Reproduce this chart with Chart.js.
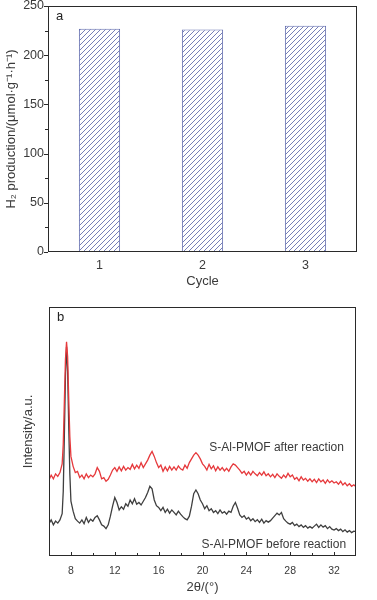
<!DOCTYPE html>
<html>
<head>
<meta charset="utf-8">
<script src="https://cdn.jsdelivr.net/npm/chart.js@4.4.1/dist/chart.umd.min.js"></script>
<style>
  html, body { margin: 0; padding: 0; background: #fff; }
  #wrap { position: relative; width: 377px; height: 600px; }
  canvas { position: absolute; left: 0; display: block; }
  #c1 { top: 0; }
  #c2 { top: 300px; }
</style>
</head>
<body>
<div id="wrap">
  <canvas id="c1" width="377" height="300"></canvas>
  <canvas id="c2" width="377" height="300"></canvas>
</div>
<script>
// ---------- Panel a: H2 production per cycle ----------
const cycles = ['1', '2', '3'];
const h2Production = [227, 226, 230];
const h2TickValues = [0, 50, 100, 150, 200, 250];

// ---------- Panel b: XRD patterns ----------
const twoTheta = [
  6.0, 6.2, 6.4, 6.6, 6.8, 7.0, 7.2, 7.3, 7.4, 7.5, 7.6, 7.7, 7.8, 7.9, 8.0,
  8.2, 8.4, 8.6, 8.8, 9.0, 9.2, 9.4, 9.6, 9.8, 10.0,
  10.2, 10.4, 10.6, 10.8, 11.0, 11.2, 11.4, 11.6, 11.8, 12.0,
  12.2, 12.4, 12.6, 12.8, 13.0, 13.2, 13.4, 13.6, 13.8, 14.0,
  14.2, 14.4, 14.6, 14.8, 15.0, 15.2, 15.4, 15.6, 15.8, 16.0,
  16.2, 16.4, 16.6, 16.8, 17.0, 17.2, 17.4, 17.6, 17.8, 18.0,
  18.2, 18.4, 18.6, 18.8, 19.0, 19.2, 19.4, 19.6, 19.8, 20.0,
  20.2, 20.4, 20.6, 20.8, 21.0, 21.2, 21.4, 21.6, 21.8, 22.0,
  22.2, 22.4, 22.6, 22.8, 23.0, 23.2, 23.4, 23.6, 23.8, 24.0,
  24.2, 24.4, 24.6, 24.8, 25.0, 25.2, 25.4, 25.6, 25.8, 26.0,
  26.2, 26.4, 26.6, 26.8, 27.0, 27.2, 27.4, 27.6, 27.8, 28.0,
  28.2, 28.4, 28.6, 28.8, 29.0, 29.2, 29.4, 29.6, 29.8, 30.0,
  30.2, 30.4, 30.6, 30.8, 31.0, 31.2, 31.4, 31.6, 31.8, 32.0,
  32.2, 32.4, 32.6, 32.8, 33.0, 33.2, 33.4, 33.6, 33.8, 34.0
];
const afterReaction = [
  30.5, 32.5, 31, 33, 32, 33.5, 37, 45, 62, 79, 86, 80, 63, 48, 40,
  36, 33.5, 34, 31.5, 32.5, 31, 33, 31.5, 32.5, 31.8,
  33, 35.5, 34, 31, 31.5, 30, 30.8, 32.5, 34.5, 35.5,
  34, 35.8, 34.2, 36, 34.5, 35.5, 34.8, 36.8, 35, 36.5,
  35.2, 37.5, 35.5, 37, 38.5, 40.5, 42, 40, 37.5, 35.5,
  36.5, 34, 35.8, 34.2, 36, 34.5, 35.8, 34.5, 36.2, 35,
  34.5, 36.5, 35.2, 37.5, 39, 40.5, 41.5, 40.5, 39, 37,
  36, 34.5, 36.8, 35, 36.2, 34.2, 35.8, 34.5, 35.5, 34.2,
  35.2, 34, 35.8, 37, 36.5, 35.5, 34.5, 33.2, 34, 32.5,
  33.8, 32.5, 34, 33, 32.2, 33.5, 32.5, 33.8, 32.2, 33,
  31.8, 32.8, 31.5, 33, 32, 31.2, 32.5, 31.5, 33.2, 31.8,
  32.5, 30.8, 31.5, 30.2, 31.8, 30.5, 31.2, 30, 31, 29.8,
  30.8, 29.5, 31, 29.8, 30.5, 29.2, 30.6, 29.5, 30.2, 29.3,
  29.8, 28.8, 30, 28.5, 29.4, 28.2, 29, 28, 28.6, 27.8
];
const beforeReaction = [
  13, 14.5, 12.5, 14, 13.2, 14.5, 17, 26, 48, 72, 84, 74, 52, 33, 22,
  18, 15, 14, 13.2, 14.5, 13, 15.5, 13.5, 14.8, 14,
  15.5, 16.2, 14.5, 12.5, 12, 11, 12.5, 16, 20, 23.5,
  21.5, 18.5, 19.8, 18.8, 21, 20, 22.5, 21, 23, 20.8,
  21.5, 20.5, 22, 23.5, 25.5, 28, 27, 22.5, 20.2, 19.5,
  18.2, 19.5, 17.5, 18.8, 17.2, 18.5, 17.5, 16.5, 18, 16.8,
  15.8, 15, 14.5, 16, 20, 25, 26.5, 25, 22.5, 21,
  19, 20.2, 18.2, 19, 17.5, 18.2, 17, 18.5, 17.2, 17.8,
  16.8, 18, 17.5, 20, 21.5, 19.2, 16.5, 15.5, 16.2, 14.8,
  15.5, 14.2, 15, 13.8, 14.6, 13.5, 14.8, 13.2, 14.2, 13.6,
  14.2, 15.2, 16.2, 17.2, 16.5, 17.5, 15, 14, 13.2, 12.8,
  13.5, 12.2, 12.8, 11.8, 12.5, 11.5, 12.2, 11.2, 11.8, 11.2,
  12, 12.8, 11.5, 12.5, 11.6, 12.2, 11, 11.8, 10.8, 10.4,
  11, 10.2, 10.8, 9.8, 10.5, 9.6, 10.2, 9.4, 10, 9.8
];
const seriesNames = ['S-Al-PMOF after reaction', 'S-Al-PMOF before reaction'];
const xrdTickLabels = [8, 12, 16, 20, 24, 28, 32];

// ---------- shared styling ----------
const FONT = 'Liberation Sans, Arial, Helvetica, sans-serif';
const TEXT = '#3a3a3a';
const FRAME = '#2a2a2a';
const HATCH = '#6670b0';

function makeHatch() {
  const s = 5;
  const c = document.createElement('canvas');
  c.width = s; c.height = s;
  const g = c.getContext('2d');
  g.fillStyle = '#ffffff';
  g.fillRect(0, 0, s, s);
  g.strokeStyle = HATCH;
  g.lineWidth = 0.9;
  g.beginPath();
  g.moveTo(-1, s + 1); g.lineTo(s + 1, -1);
  g.moveTo(-1, 1); g.lineTo(1, -1);
  g.moveTo(s - 1, s + 1); g.lineTo(s + 1, s - 1);
  g.stroke();
  return g.createPattern(c, 'repeat');
}

const framePlugin = {
  id: 'frame',
  afterDraw(chart, args, opts) {
    const ctx = chart.ctx;
    const a = chart.chartArea;
    ctx.save();
    ctx.strokeStyle = FRAME;
    ctx.lineWidth = 1;
    ctx.strokeRect(Math.round(a.left) + 0.5, Math.round(a.top) + 0.5,
                   Math.round(a.right - a.left) - 1, Math.round(a.bottom - a.top) - 1);
    if (opts.yTicks) {
      const ys = chart.scales.y;
      ys.ticks.forEach(t => {
        const py = Math.round(ys.getPixelForValue(t.value)) + 0.5;
        const len = (t.value % 50 === 0) ? 4 : 3;
        ctx.beginPath();
        ctx.moveTo(a.left, py); ctx.lineTo(a.left - len, py);
        ctx.stroke();
      });
    }
    if (opts.xTicksInward) {
      const xs = chart.scales.x;
      xs.ticks.forEach(t => {
        if (t.value <= xs.min || t.value >= xs.max) return;
        const px = Math.round(xs.getPixelForValue(t.value)) + 0.5;
        const len = (t.value % 4 === 0) ? 4 : 3;
        ctx.beginPath();
        ctx.moveTo(px, a.bottom); ctx.lineTo(px, a.bottom - len);
        ctx.stroke();
      });
    }
    if (opts.letter) {
      ctx.fillStyle = '#222';
      ctx.font = '13px ' + FONT;
      ctx.textAlign = 'left';
      ctx.textBaseline = 'middle';
      ctx.fillText(opts.letter, a.left + 8, a.top + 10);
    }
    ctx.restore();
  }
};

const seriesLabelPlugin = {
  id: 'seriesLabels',
  afterDraw(chart, args, opts) {
    if (!opts.items) return;
    const ctx = chart.ctx;
    const xs = chart.scales.x, ys = chart.scales.y;
    ctx.save();
    ctx.fillStyle = TEXT;
    ctx.font = '12px ' + FONT;
    ctx.textAlign = 'right';
    ctx.textBaseline = 'middle';
    opts.items.forEach(it => {
      ctx.fillText(it.text, xs.getPixelForValue(it.x), ys.getPixelForValue(it.y));
    });
    ctx.restore();
  }
};

Chart.register(framePlugin, seriesLabelPlugin);

// ---------- chart a ----------
new Chart(document.getElementById('c1'), {
  type: 'bar',
  data: {
    labels: cycles,
    datasets: [{
      data: h2Production,
      backgroundColor: makeHatch(),
      borderColor: HATCH,
      borderWidth: 1,
      borderSkipped: false,
      barPercentage: 0.8,
      categoryPercentage: 0.5
    }]
  },
  options: {
    responsive: false,
    animation: false,
    devicePixelRatio: 1,
    layout: { padding: { top: 6, right: 20, left: 0, bottom: 0 } },
    plugins: {
      legend: { display: false },
      tooltip: { enabled: false },
      frame: { yTicks: true, letter: 'a' },
      seriesLabels: {}
    },
    scales: {
      x: {
        grid: { display: false, drawTicks: false },
        border: { display: false },
        ticks: { color: TEXT, font: { family: FONT, size: 12.5 }, padding: 6 },
        title: { display: true, text: 'Cycle', color: TEXT,
                 font: { family: FONT, size: 13 }, padding: { top: 0, bottom: 11 } },
        afterFit(s) { s.height = 48; }
      },
      y: {
        min: 0, max: 250,
        grid: { display: false, drawTicks: false },
        border: { display: false },
        ticks: {
          stepSize: 25, autoSkip: false, color: TEXT, padding: 4,
          font: { family: FONT, size: 12.5 },
          callback: v => (h2TickValues.includes(v) ? String(v) : '')
        },
        title: { display: true, text: 'H\u2082 production/(\u03bcmol\u00b7g\u207b\u00b9\u00b7h\u207b\u00b9)',
                 color: TEXT, font: { family: FONT, size: 13 }, padding: { top: 4, bottom: 0 } },
        afterFit(s) { s.width = 48; s.paddingTop = 0; s.paddingBottom = 0; }
      }
    }
  }
});

// ---------- chart b ----------
new Chart(document.getElementById('c2'), {
  type: 'line',
  data: {
    labels: twoTheta,
    datasets: [
      {
        label: seriesNames[0],
        data: twoTheta.map((x, i) => ({ x: x, y: afterReaction[i] })),
        borderColor: '#e6393c',
        borderWidth: 1.3,
        pointRadius: 0,
        tension: 0,
        fill: false
      },
      {
        label: seriesNames[1],
        data: twoTheta.map((x, i) => ({ x: x, y: beforeReaction[i] })),
        borderColor: '#3f3f3f',
        borderWidth: 1.3,
        pointRadius: 0,
        tension: 0,
        fill: false
      }
    ]
  },
  options: {
    responsive: false,
    animation: false,
    devicePixelRatio: 1,
    layout: { padding: { top: 7, right: 21, left: 0, bottom: 0 } },
    plugins: {
      legend: { display: false },
      tooltip: { enabled: false },
      frame: { xTicksInward: true, letter: 'b' },
      seriesLabels: {
        items: [
          { text: seriesNames[0], x: 32.9, y: 43.4 },
          { text: seriesNames[1], x: 33.1, y: 4.4 }
        ]
      }
    },
    scales: {
      x: {
        type: 'linear',
        min: 6, max: 34,
        grid: { display: false, drawTicks: false },
        border: { display: false },
        ticks: {
          stepSize: 2, autoSkip: false, maxRotation: 0, color: TEXT, padding: 9,
          font: { family: FONT, size: 10.5 },
          callback: v => (xrdTickLabels.includes(v) ? String(v) : '')
        },
        title: { display: true, text: '2\u03b8/(\u00b0)', color: TEXT,
                 font: { family: FONT, size: 13 }, padding: { top: 0, bottom: 5 } },
        afterFit(s) { s.height = 44; }
      },
      y: {
        min: 0, max: 100,
        grid: { display: false, drawTicks: false },
        border: { display: false },
        ticks: { display: false },
        title: { display: true, text: 'Intensity/a.u.', color: TEXT,
                 font: { family: FONT, size: 13 }, padding: { top: 21, bottom: 0 } },
        afterFit(s) { s.width = 49; }
      }
    }
  }
});
</script>
</body>
</html>
